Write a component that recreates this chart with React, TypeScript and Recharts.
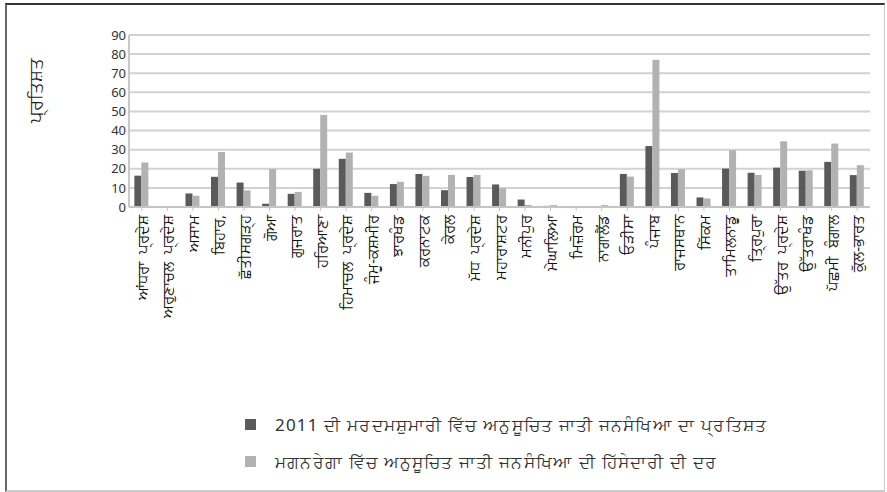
import React from 'react'
import { BarChart, Bar, XAxis, YAxis, CartesianGrid, Legend } from 'recharts'

const states = [
  'ਆਂਧਰਾ  ਪ੍ਰਦੇਸ਼', 'ਅਰੁਣਾਚਲ  ਪ੍ਰਦੇਸ਼', 'ਅਸਾਮ', 'ਬਿਹਾਰ,', 'ਛੱਤੀਸਗੜ੍ਹ', 'ਗੋਆ', 'ਗੁਜਰਾਤ', 'ਹਰਿਆਣਾ',
  'ਹਿਮਾਚਲ  ਪ੍ਰਦੇਸ਼', 'ਜੰਮੂ-ਕਸ਼ਮੀਰ', 'ਝਾਰਖੰਡ', 'ਕਰਨਾਟਕ', 'ਕੇਰਲ', 'ਮੱਧ  ਪ੍ਰਦੇਸ਼', 'ਮਹਾਰਾਸ਼ਟਰ', 'ਮਨੀਪੁਰ',
  'ਮੇਘਾਲਿਆ', 'ਮਿਜ਼ੋਰਮ', 'ਨਾਗਾਲੈਂਡ', 'ਓੜੀਸਾ', 'ਪੰਜਾਬ', 'ਰਾਜਸਥਾਨ', 'ਸਿੱਕਮ', 'ਤਾਮਿਲਨਾਡੂ',
  'ਤ੍ਰਿਪੁਰਾ', 'ਉੱਤਰ  ਪ੍ਰਦੇਸ਼', 'ਉੱਤਰਾਖੰਡ', 'ਪੱਛਮੀ  ਬੰਗਾਲ', 'ਕੁੱਲ-ਭਾਰਤ',
]

// 2011 census share of scheduled castes (%)
const censusShare = [
  16.4, 0, 7.1, 15.8, 12.8, 1.7, 6.9, 20.0, 25.2, 7.4, 12.0, 17.3, 8.8, 15.7, 11.8,
  3.9, 0.6, 0.1, 0, 17.3, 31.9, 17.8, 5.0, 20.1, 17.9, 20.6, 19.0, 23.6, 16.7,
]

// scheduled caste participation rate in MGNREGA (%)
const mgnregaShare = [
  23.3, 0, 5.9, 28.8, 8.7, 19.8, 7.9, 48.2, 28.5, 5.9, 13.2, 16.3, 16.8, 16.8, 9.8,
  1.1, 1.0, 0, 1.0, 15.9, 77.0, 19.8, 4.5, 29.7, 16.8, 34.4, 19.2, 33.2, 21.9,
]

const yTicks = [0, 10, 20, 30, 40, 50, 60, 70, 80, 90]

const censusLabel = '2011 ਦੀ ਮਰਦਮਸ਼ੁਮਾਰੀ ਵਿੱਚ ਅਨੁਸੂਚਿਤ ਜਾਤੀ ਜਨਸੰਖਿਆ ਦਾ ਪ੍ਰਤਿਸ਼ਤ'
const mgnregaLabel = 'ਮਗਨਰੇਗਾ ਵਿੱਚ ਅਨੁਸੂਚਿਤ ਜਾਤੀ ਜਨਸੰਖਿਆ ਦੀ ਹਿੱਸੇਦਾਰੀ ਦੀ ਦਰ'

const DARK = '#5a5a5a'
const LIGHT = '#b2b2b2'
const FONT = '"Noto Sans", "Open Sans", sans-serif'

const data = states.map((name, i) => ({
  name,
  census: censusShare[i],
  mgnrega: mgnregaShare[i],
}))

function StateTick(props: any) {
  const { x, y, payload } = props
  return (
    <text
      x={x}
      y={y}
      transform={`rotate(-90 ${x} ${y})`}
      textAnchor="end"
      dominantBaseline="central"
      fontSize={15}
      fill="#111"
      fontFamily={FONT}
      style={{ whiteSpace: 'pre' }}
    >
      {payload.value}
    </text>
  )
}

function LegendBox() {
  const rows = [
    { color: DARK, text: censusLabel },
    { color: LIGHT, text: mgnregaLabel },
  ]
  return (
    <div style={{ fontFamily: FONT }}>
      {rows.map((r) => (
        <div key={r.text} style={{ display: 'flex', alignItems: 'center', height: 37 }}>
          <span style={{ width: 11, height: 11, background: r.color, marginRight: 19 }} />
          <span style={{ fontSize: 17, letterSpacing: 1.2, color: '#333', whiteSpace: 'nowrap' }}>{r.text}</span>
        </div>
      ))}
    </div>
  )
}

export default function App() {
  return (
    <div style={{ position: 'relative', width: 887, height: 492, background: '#fff', fontFamily: FONT }}>
      <style>{'body{margin:0}'}</style>
      {/* outer frame */}
      <div
        style={{
          position: 'absolute', left: 5, top: 3, width: 877, height: 485,
          borderTop: '2px solid #333', borderLeft: '2px solid #666',
          borderRight: '1px solid #ccc', borderBottom: '2px solid #ccc',
        }}
      />
      <div style={{ position: 'absolute', left: 0, top: 0 }}>
        <BarChart
          width={887}
          height={492}
          data={data}
          margin={{ top: 35, right: 17, bottom: 165, left: 0 }}
          barCategoryGap="21%"
          barGap={0}
        >
          <CartesianGrid vertical={false} stroke="#d2d2d2" strokeWidth={2} />
          <XAxis
            dataKey="name"
            interval={0}
            height={120}
            tick={<StateTick />}
            tickSize={4}
            tickMargin={4}
            axisLine={{ stroke: '#c4c4c4', strokeWidth: 2 }}
            tickLine={{ stroke: '#c4c4c4' }}
          />
          <YAxis
            width={129}
            domain={[0, 90]}
            ticks={yTicks}
            interval={0}
            tickSize={0}
            tickMargin={3}
            axisLine={{ stroke: '#c8c8c8', strokeWidth: 2 }}
            tickLine={false}
            tick={{ fontSize: 13, fill: '#333', fontFamily: FONT }}
            label={{
              content: () => (
                <text
                  x={35}
                  y={90}
                  transform="rotate(-90 35 90)"
                  textAnchor="middle"
                  dominantBaseline="central"
                  fontSize={18}
                  fill="#222"
                  fontFamily={FONT}
                >
                  ਪ੍ਰਤਿਸ਼ਤ
                </text>
              ),
            }}
          />
          <Legend
            layout="vertical"
            align="center"
            verticalAlign="middle"
            wrapperStyle={{ left: 245, top: 406, width: 620 }}
            content={() => <LegendBox />}
          />
          <Bar dataKey="census" name={censusLabel} fill={DARK} isAnimationActive={false} />
          <Bar dataKey="mgnrega" name={mgnregaLabel} fill={LIGHT} isAnimationActive={false} />
        </BarChart>
      </div>
    </div>
  )
}
